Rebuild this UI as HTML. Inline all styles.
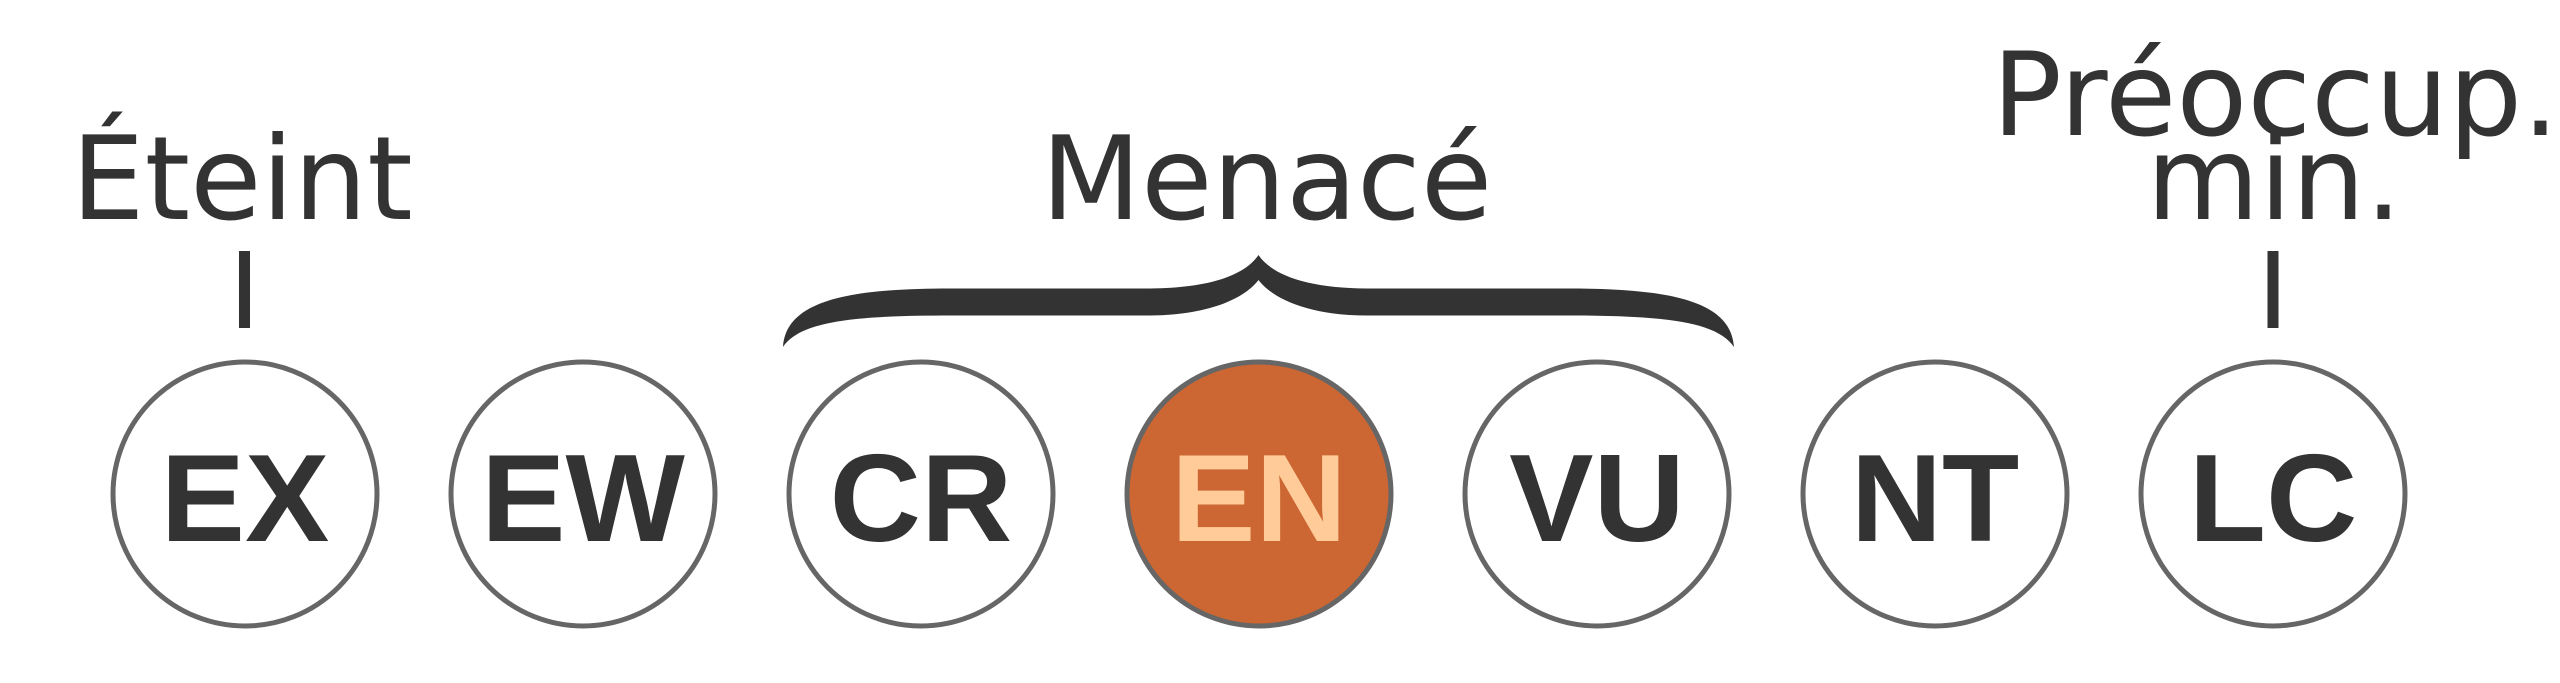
<!DOCTYPE html>
<html>
<head>
<meta charset="utf-8">
<style>
  html, body { margin: 0; padding: 0; background: #ffffff; }
  body { width: 2560px; height: 683px; overflow: hidden; }
  svg { display: block; }
  .lbl { font-family: "DejaVu Sans", "Liberation Sans", sans-serif; font-size: 116px; fill: #333333; }
  .code { font-family: "Liberation Sans", Arial, sans-serif; font-weight: bold; font-size: 124px; fill: #333333; }
</style>
</head>
<body>
<svg width="2560" height="683" viewBox="0 0 2560 683" xmlns="http://www.w3.org/2000/svg">
  <rect x="0" y="0" width="2560" height="683" fill="#ffffff"/>

  <!-- Labels -->
  <text class="lbl" x="71.3" y="219">Éteint</text>
  <text class="lbl" x="1041" y="219">Menacé</text>
  <text class="lbl" x="1992" y="135">Préoccup.</text>
  <text class="lbl" x="2146.4" y="219">min.</text>

  <!-- Tick lines -->
  <rect x="239" y="251" width="11" height="77" fill="#333333"/>
  <rect x="2267.5" y="251" width="11" height="77" fill="#333333"/>

  <!-- Brace -->
  <path fill="#333333" d="
    M 783 347
    C 786 300 850 288.5 950 288.5
    L 1150 288.5
    C 1210 288 1245 275 1258.5 255
    C 1272 275 1307 288 1367 288.5
    L 1567 288.5
    C 1667 288.5 1731 300 1734 347
    C 1717 322 1667 315.5 1567 315.5
    L 1367 315.5
    C 1303.5 315.5 1270.5 296 1258.5 280
    C 1246.5 296 1213.5 315 1150 315.5
    L 950 315.5
    C 850 315.5 800 322 783 347 Z"/>

  <!-- Circles -->
  <g stroke="#666666" stroke-width="5">
    <circle cx="245" cy="494" r="132" fill="#ffffff"/>
    <circle cx="583" cy="494" r="132" fill="#ffffff"/>
    <circle cx="921" cy="494" r="132" fill="#ffffff"/>
    <circle cx="1259" cy="494" r="132" fill="#cc6633"/>
    <circle cx="1597" cy="494" r="132" fill="#ffffff"/>
    <circle cx="1935" cy="494" r="132" fill="#ffffff"/>
    <circle cx="2273" cy="494" r="132" fill="#ffffff"/>
  </g>

  <!-- Codes -->
  <text class="code" text-anchor="middle" transform="translate(245,541) scale(1.02,1)">EX</text>
  <text class="code" text-anchor="middle" transform="translate(583,541) scale(1.02,1)">EW</text>
  <text class="code" text-anchor="middle" transform="translate(921,541) scale(1.02,1)">CR</text>
  <text class="code" text-anchor="middle" transform="translate(1259,541) scale(1.02,1)" style="fill:#ffcc99">EN</text>
  <text class="code" text-anchor="middle" transform="translate(1597,541) scale(1.02,1)">VU</text>
  <text class="code" text-anchor="middle" transform="translate(1935,541) scale(1.02,1)">NT</text>
  <text class="code" text-anchor="middle" transform="translate(2273,541) scale(1.02,1)">LC</text>
</svg>
</body>
</html>
